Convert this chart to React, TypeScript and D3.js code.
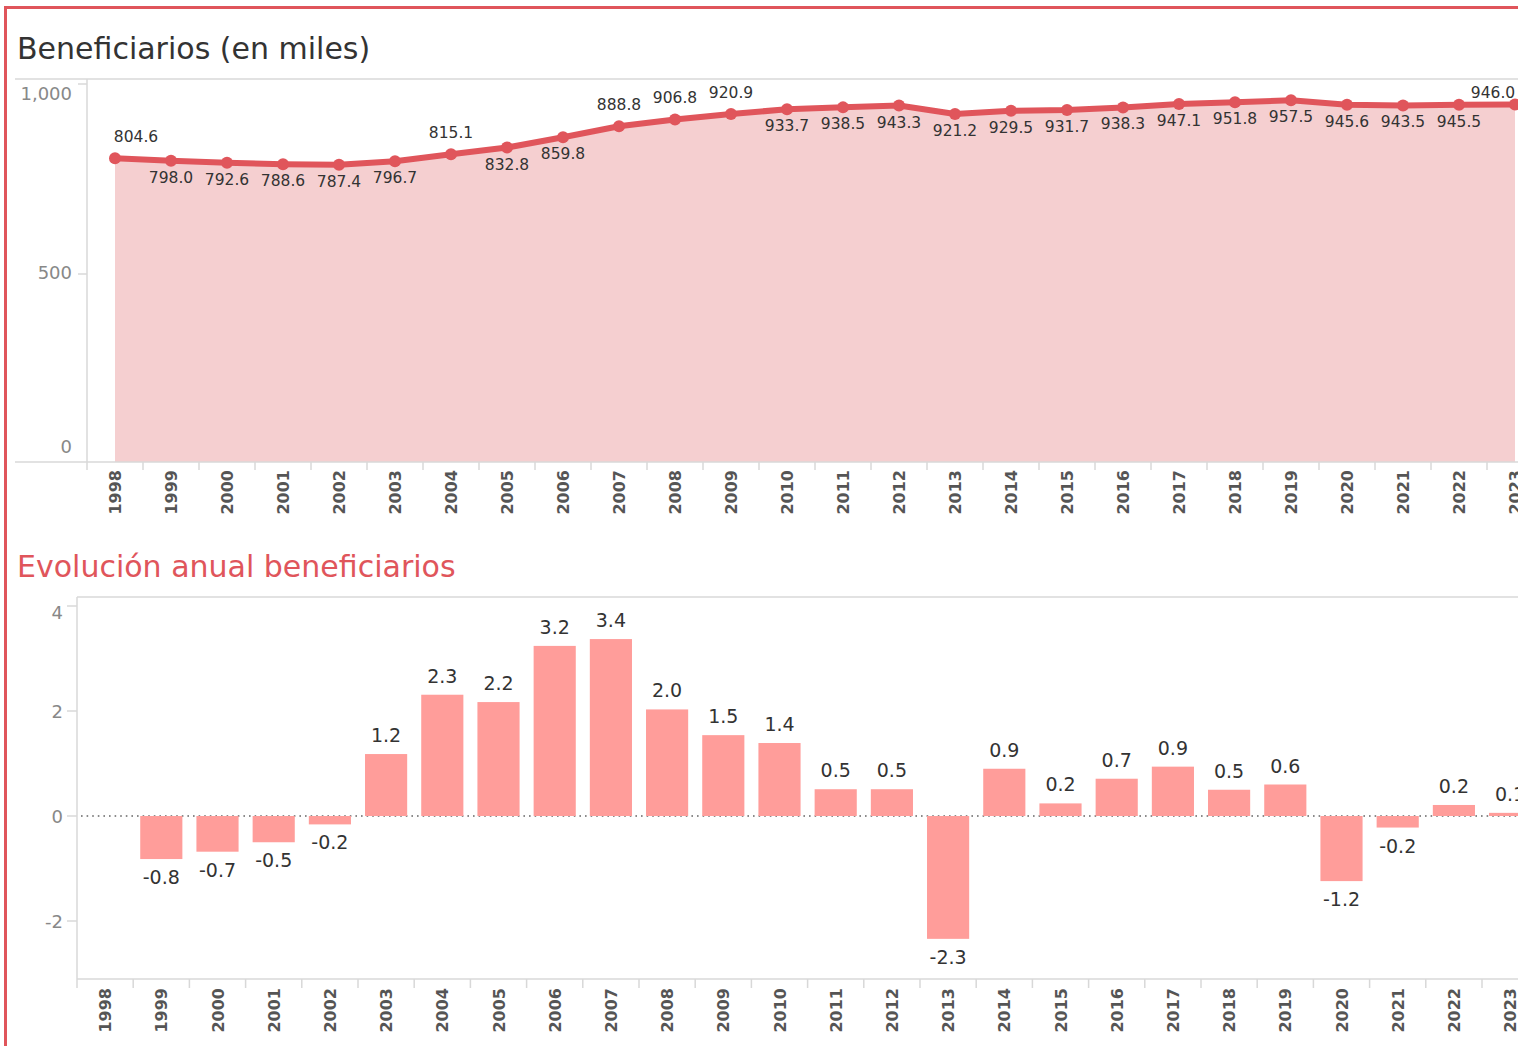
import React from 'react';
import * as d3 from 'd3';

const YEARS = ['1998','1999','2000','2001','2002','2003','2004','2005','2006','2007','2008','2009','2010','2011','2012','2013','2014','2015','2016','2017','2018','2019','2020','2021','2022','2023'];
const BENEFICIARIOS = [804.6, 798.0, 792.6, 788.6, 787.4, 796.7, 815.1, 832.8, 859.8, 888.8, 906.8, 920.9, 933.7, 938.5, 943.3, 921.2, 929.5, 931.7, 938.3, 947.1, 951.8, 957.5, 945.6, 943.5, 945.5, 946.0];
const LABEL_ABOVE_YEARS = ['1998','2004','2007','2008','2009','2023'];
const EVOLUCION: (number | null)[] = [null, -0.82, -0.68, -0.50, -0.16, 1.18, 2.31, 2.17, 3.24, 3.37, 2.03, 1.54, 1.39, 0.51, 0.51, -2.34, 0.90, 0.24, 0.71, 0.94, 0.50, 0.60, -1.24, -0.22, 0.21, 0.06];
const TOP_TICKS = [0, 500, 1000];
const BOTTOM_TICKS = [-2, 0, 2, 4];
const TITLE_TOP = 'Beneficiarios (en miles)';
const TITLE_BOTTOM = 'Evolución anual beneficiarios';

const W = 1518;
const H = 1046;
const RED = '#e0555b';
const GRID = '#d8d8d8';
const NUM_FONT = '"DejaVu Sans", sans-serif';

export default function App() {
  // Top chart scales
  const xTop = d3.scaleBand<string>().domain(YEARS).range([87, 87 + 26 * 56]).padding(0);
  const yTop = d3.scaleLinear().domain([0, 1000]).range([464, 84]);
  const cxTop = (y: string) => (xTop(y) as number) + xTop.bandwidth() / 2;
  const pts = YEARS.map((y, i) => ({ year: y, v: BENEFICIARIOS[i] }));
  const lineGen = d3.line<{ year: string; v: number }>().x(d => cxTop(d.year)).y(d => yTop(d.v));
  const areaGen = d3.area<{ year: string; v: number }>().x(d => cxTop(d.year)).y0(462).y1(d => yTop(d.v));
  const fmt = d3.format(',');

  // Bottom chart scales
  const xBot = d3.scaleBand<string>().domain(YEARS).range([77, 77 + 26 * 56.2]).paddingInner(0.25).paddingOuter(0.125);
  const xBotBand = d3.scaleBand<string>().domain(YEARS).range([77, 77 + 26 * 56.2]).padding(0);
  const yBot = d3.scaleLinear().domain([-2, 4]).range([921, 606]);
  const cxBot = (y: string) => (xBotBand(y) as number) + xBotBand.bandwidth() / 2;

  return (
    <svg width={W} height={H} style={{ position: 'absolute', left: 0, top: 0, background: '#fff' }}>
      {/* frame */}
      <line x1={5} y1={7.5} x2={W} y2={7.5} stroke={RED} strokeWidth={3} />
      <line x1={5.5} y1={6} x2={5.5} y2={H} stroke={RED} strokeWidth={3} />

      {/* ---------- TOP CHART ---------- */}
      <text x={17} y={59} fontFamily={NUM_FONT} fontSize={30} fill="#333">{TITLE_TOP}</text>
      <line x1={15} y1={79} x2={W} y2={79} stroke={GRID} strokeWidth={1.5} />
      <path d={areaGen(pts) as string} fill="#f5cfd0" />
      <line x1={15} y1={462} x2={W} y2={462} stroke={GRID} strokeWidth={1.5} />
      <line x1={87} y1={79} x2={87} y2={462} stroke={GRID} strokeWidth={1.5} />
      {TOP_TICKS.map((t, i) => {
        const yy = yTop(t);
        const by = i === TOP_TICKS.length - 1 ? yy + 16 : i === 0 ? yy - 11 : yy + 5;
        return (
          <g key={t}>
            {t !== 0 && <line x1={78} y1={yy} x2={87} y2={yy} stroke={GRID} strokeWidth={1.5} />}
            <text x={72} y={by} textAnchor="end" fontFamily={NUM_FONT} fontSize={18} fill="#888">{fmt(t)}</text>
          </g>
        );
      })}
      {YEARS.map((y) => {
        const x0 = xTop(y) as number;
        return <line key={'tt' + y} x1={x0} y1={462} x2={x0} y2={470} stroke={GRID} strokeWidth={1.5} />;
      })}
      {YEARS.map((y) => (
        <text key={'yt' + y} transform={`translate(${cxTop(y) + 6},470) rotate(-90)`} textAnchor="end"
          fontFamily={NUM_FONT} fontWeight="bold" fontSize={16} fill="#555">{y}</text>
      ))}
      <path d={lineGen(pts) as string} fill="none" stroke={RED} strokeWidth={6} strokeLinejoin="round" />
      {pts.map(p => (
        <circle key={'c' + p.year} cx={cxTop(p.year)} cy={yTop(p.v)} r={6} fill={RED} />
      ))}
      {pts.map(p => {
        const above = LABEL_ABOVE_YEARS.includes(p.year);
        const cx = Math.max(87 + 49, Math.min(cxTop(p.year), W - 25));
        const yy = above ? Math.max(yTop(p.v) - 16, 98) : yTop(p.v) + 22;
        return (
          <text key={'l' + p.year} x={cx} y={yy} textAnchor="middle" fontFamily={NUM_FONT} fontSize={15.5} fill="#333">
            {p.v.toFixed(1)}
          </text>
        );
      })}

      {/* ---------- BOTTOM CHART ---------- */}
      <text x={17} y={577} fontFamily={NUM_FONT} fontSize={30} fill={RED}>{TITLE_BOTTOM}</text>
      <line x1={77} y1={597} x2={W} y2={597} stroke={GRID} strokeWidth={1.5} />
      <line x1={77} y1={979} x2={W} y2={979} stroke={GRID} strokeWidth={1.5} />
      <line x1={77} y1={597} x2={77} y2={979} stroke={GRID} strokeWidth={1.5} />
      {BOTTOM_TICKS.map((t, i) => {
        const yy = yBot(t);
        const by = i === BOTTOM_TICKS.length - 1 ? yy + 13 : yy + 7;
        return (
          <g key={'bt' + t}>
            <line x1={67} y1={yy} x2={77} y2={yy} stroke={GRID} strokeWidth={1.5} />
            <text x={63} y={by} textAnchor="end" fontFamily={NUM_FONT} fontSize={18} fill="#888">{t}</text>
          </g>
        );
      })}
      <line x1={81} y1={yBot(0)} x2={W} y2={yBot(0)} stroke="#666" strokeWidth={1.6} strokeDasharray="1.6,4" />
      {YEARS.map((y, i) => {
        const v = EVOLUCION[i];
        if (v === null) return null;
        const x0 = xBot(y) as number;
        const top = yBot(Math.max(0, v));
        const bot = yBot(Math.min(0, v));
        return (
          <g key={'b' + y}>
            <rect x={x0} y={top} width={xBot.bandwidth()} height={bot - top} fill="#ff9d9a" />
            <text x={cxBot(y)} y={v >= 0 ? top - 12 : bot + 25} textAnchor="middle" fontFamily={NUM_FONT} fontSize={19} fill="#333">
              {v.toFixed(1)}
            </text>
          </g>
        );
      })}
      {YEARS.map((y) => {
        const x0 = xBotBand(y) as number;
        return <line key={'bk' + y} x1={x0} y1={979} x2={x0} y2={988} stroke={GRID} strokeWidth={1.5} />;
      })}
      {YEARS.map((y) => (
        <text key={'by' + y} transform={`translate(${cxBot(y) + 6},988) rotate(-90)`} textAnchor="end"
          fontFamily={NUM_FONT} fontWeight="bold" fontSize={16} fill="#555">{y}</text>
      ))}
    </svg>
  );
}
